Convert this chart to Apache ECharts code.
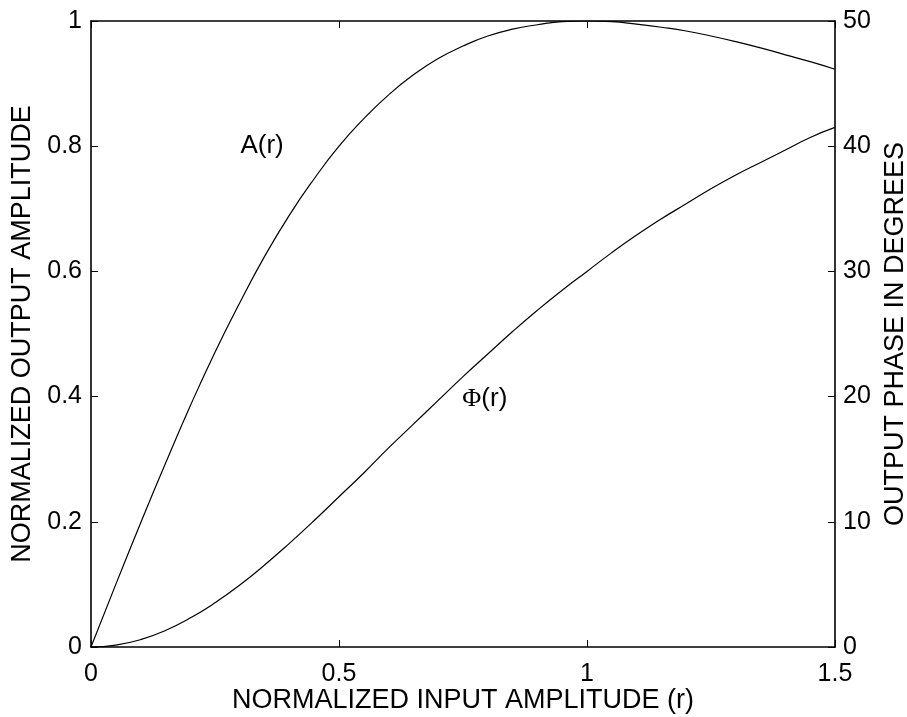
<!DOCTYPE html>
<html>
<head>
<meta charset="utf-8">
<script src="https://cdn.jsdelivr.net/npm/echarts@6/dist/echarts.min.js"></script>
<style>
  html, body { margin: 0; padding: 0; background: #fff; }
  #chart { width: 907px; height: 717px; }
</style>
</head>
<body>
<div id="chart"></div>
<script>
// input amplitude r
const rValues = [0, 0.05, 0.1, 0.15, 0.2, 0.25, 0.3, 0.35, 0.4, 0.45, 0.5, 0.55, 0.6, 0.65, 0.7, 0.75,
  0.8, 0.85, 0.9, 0.95, 1.0, 1.05, 1.1, 1.15, 1.2, 1.25, 1.3, 1.35, 1.4, 1.45, 1.5];
// A(r), normalized output amplitude (left axis)
const ampValues = [0, 0.100, 0.198, 0.293, 0.385, 0.471, 0.550, 0.624, 0.690, 0.748, 0.800, 0.844, 0.882,
  0.914, 0.940, 0.960, 0.976, 0.987, 0.994, 0.999, 1.000, 0.999, 0.995, 0.990, 0.984, 0.976, 0.967,
  0.957, 0.946, 0.935, 0.923];
// Phi(r), output phase in degrees (right axis)
const phaseValues = [0, 0.15, 0.59, 1.32, 2.31, 3.53, 4.95, 6.55, 8.28, 10.1, 12.0, 13.9, 15.9, 17.8,
  19.7, 21.6, 23.4, 25.2, 26.9, 28.5, 30.0, 31.5, 32.9, 34.2, 35.4, 36.6, 37.7, 38.7, 39.7, 40.7, 41.5];

const xTicks = [0, 0.5, 1, 1.5];
const leftTicks = [0, 0.2, 0.4, 0.6, 0.8, 1];
const rightTicks = [0, 10, 20, 30, 40, 50];

const curveLabels = [
  { text: 'A(r)', at: [0.345, 0.8] },
  { text: '{s|Φ}(r)', at: [0.794, 0.396] }
];

const font = 'Liberation Sans, Arial, sans-serif';

const axisLine = { show: true, onZero: false, lineStyle: { color: '#000', width: 1.6 } };
const tickIn = { show: true, inside: true, length: 7, lineStyle: { color: '#000', width: 1 } };
const labelStyle = { color: '#000', fontFamily: font, fontSize: 25 };
const nameStyle = { color: '#000', fontFamily: font, fontSize: 27 };

const chart = echarts.init(document.getElementById('chart'));

chart.setOption({
  backgroundColor: '#fff',
  animation: false,
  grid: { left: 91, right: 72, top: 21, bottom: 70, containLabel: false, outerBoundsMode: 'none' },
  xAxis: [
    {
      type: 'value',
      position: 'bottom',
      min: xTicks[0],
      max: xTicks[xTicks.length - 1],
      interval: xTicks[1] - xTicks[0],
      axisLine: axisLine,
      axisTick: tickIn,
      axisLabel: Object.assign({ margin: 15 }, labelStyle),
      splitLine: { show: false },
      name: 'NORMALIZED INPUT AMPLITUDE (r)',
      nameLocation: 'middle',
      nameGap: 40,
      nameMoveOverlap: false,
      nameTextStyle: nameStyle
    },
    {
      type: 'value',
      position: 'top',
      min: xTicks[0],
      max: xTicks[xTicks.length - 1],
      interval: xTicks[1] - xTicks[0],
      axisLine: axisLine,
      axisTick: tickIn,
      axisLabel: { show: false },
      splitLine: { show: false }
    }
  ],
  yAxis: [
    {
      type: 'value',
      position: 'left',
      min: leftTicks[0],
      max: leftTicks[leftTicks.length - 1],
      interval: leftTicks[1] - leftTicks[0],
      axisLine: axisLine,
      axisTick: tickIn,
      axisLabel: Object.assign({ margin: 9 }, labelStyle),
      splitLine: { show: false },
      name: 'NORMALIZED OUTPUT AMPLITUDE',
      nameLocation: 'middle',
      nameGap: 54,
      nameTextStyle: nameStyle
    },
    {
      type: 'value',
      position: 'right',
      min: rightTicks[0],
      max: rightTicks[rightTicks.length - 1],
      interval: rightTicks[1] - rightTicks[0],
      axisLine: axisLine,
      axisTick: tickIn,
      axisLabel: Object.assign({ margin: 8 }, labelStyle),
      splitLine: { show: false },
      name: 'OUTPUT PHASE IN DEGREES',
      nameLocation: 'middle',
      nameGap: 46,
      nameRotate: 90,
      nameTextStyle: nameStyle
    }
  ],
  series: [
    {
      type: 'line',
      xAxisIndex: 0,
      yAxisIndex: 0,
      data: rValues.map((r, i) => [r, ampValues[i]]),
      showSymbol: false,
      smooth: true,
      lineStyle: { color: '#000', width: 1.2 }
    },
    {
      type: 'line',
      xAxisIndex: 0,
      yAxisIndex: 1,
      data: rValues.map((r, i) => [r, phaseValues[i]]),
      showSymbol: false,
      smooth: true,
      lineStyle: { color: '#000', width: 1.2 }
    },
    {
      type: 'scatter',
      xAxisIndex: 0,
      yAxisIndex: 0,
      symbolSize: 0,
      itemStyle: { color: '#000', opacity: 1 },
      silent: true,
      data: curveLabels.map(d => ({ value: d.at, name: d.text })),
      label: {
        show: true,
        position: 'inside',
        formatter: p => p.name,
        color: '#000',
        textBorderWidth: 0,
        fontFamily: font,
        fontSize: 26,
        rich: {
          s: { fontFamily: 'Liberation Serif, DejaVu Serif, serif', fontSize: 26, color: '#000' }
        }
      }
    }
  ]
});
</script>
</body>
</html>
